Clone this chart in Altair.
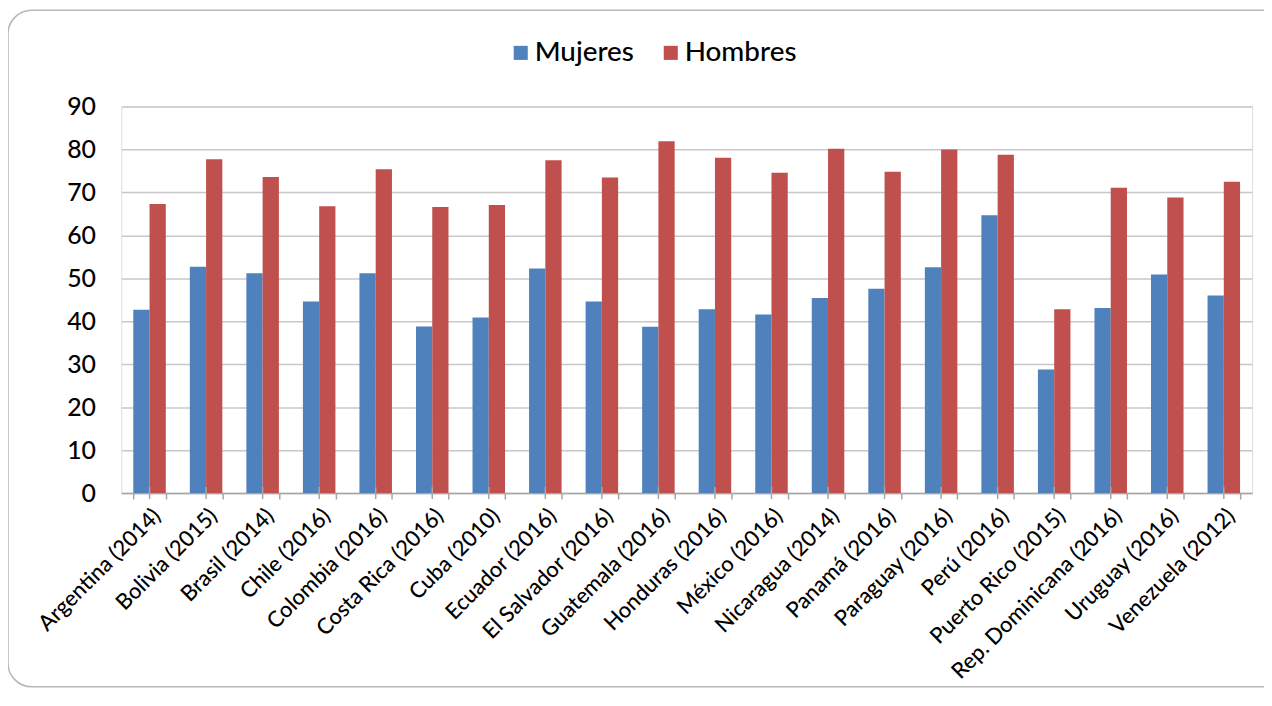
import altair as alt
import pandas as pd

paises = ["Argentina (2014)", "Bolivia  (2015)", "Brasil (2014)", "Chile (2016)",
          "Colombia (2016)", "Costa Rica (2016)", "Cuba (2010)", "Ecuador (2016)",
          "El Salvador (2016)", "Guatemala (2016)", "Honduras (2016)", "México (2016)",
          "Nicaragua (2014)", "Panamá (2016)", "Paraguay (2016)", "Perú  (2016)",
          "Puerto Rico (2015)", "Rep. Dominicana (2016)", "Uruguay (2016)", "Venezuela (2012)"]
mujeres = [42.7, 52.7, 51.2, 44.6, 51.2, 38.8, 40.9, 52.3, 44.6, 38.7,
           42.8, 41.6, 45.4, 47.6, 52.6, 64.7, 28.8, 43.1, 50.9, 46.0]
hombres = [67.3, 77.7, 73.6, 66.8, 75.4, 66.6, 67.1, 77.5, 73.5, 81.9,
           78.1, 74.6, 80.2, 74.8, 80.0, 78.8, 42.8, 71.1, 68.8, 72.5]
grupos = ["Mujeres", "Hombres"]
colores = ["#4F81BD", "#C0504D"]
y_ticks = [0, 10, 20, 30, 40, 50, 60, 70, 80, 90]

rows = []
for p, m, h in zip(paises, mujeres, hombres):
    rows.append({"pais": p, "grupo": "Mujeres", "valor": m})
    rows.append({"pais": p, "grupo": "Hombres", "valor": h})
df = pd.DataFrame(rows)

FONT = "Lato"
WEIGHT = 500
W, H = 1138, 389

xscale = alt.Scale(domain=paises, paddingInner=0.425, paddingOuter=0.2125)

border = alt.Chart(alt.Data(values=[{"a": 1}])).mark_rect(
    cornerRadius=24, filled=False, stroke="#b8b8b8", strokeWidth=1.5
).encode(
    x=alt.value(-114), x2=alt.value(1190), y=alt.value(-97), y2=alt.value(584)
)

bars = alt.Chart(df).mark_bar().encode(
    x=alt.X("pais:N", scale=xscale, sort=paises, title=None,
            axis=alt.Axis(labelAngle=-45, labelFontSize=22, labelFont=FONT, labelFontWeight=WEIGHT,
                          labelColor="#000", labelLimit=0, tickBand="extent", tickSize=6,
                          tickColor="#a6a6a6", tickWidth=1.5, domainColor="#a6a6a6",
                          domainWidth=1.5, labelPadding=6, grid=False)),
    xOffset=alt.XOffset("grupo:N", sort=grupos, scale=alt.Scale(domain=grupos, paddingInner=0, paddingOuter=0)),
    y=alt.Y("valor:Q", scale=alt.Scale(domain=[0, 90], nice=False), title=None,
            axis=alt.Axis(values=y_ticks, ticks=False, domain=False, labelFontSize=25,
                          labelFont=FONT, labelFontWeight=WEIGHT, labelColor="#000", labelPadding=26,
                          gridColor="#c8c8c8", gridWidth=1.5)),
    color=alt.Color("grupo:N", scale=alt.Scale(domain=grupos, range=colores), title=None,
                    legend=alt.Legend(orient="none", legendX=388, legendY=-68, direction="horizontal",
                                      symbolType="square", symbolSize=200, symbolStrokeWidth=0,
                                      labelFontSize=28, labelFont=FONT, labelFontWeight=WEIGHT,
                                      labelColor="#000", columnPadding=23, labelOffset=0)),
)

center_ticks = alt.Chart(alt.Data(values=[{"pais": p} for p in paises])).mark_rule(
    color="#a6a6a6", strokeWidth=1.5
).encode(
    x=alt.X("pais:N", scale=xscale, sort=paises),
    y=alt.value(H - 6), y2=alt.value(H + 6)
)

chart = alt.layer(border, bars, center_ticks).properties(
    width=W, height=H,
    autosize=alt.AutoSizeParams(type="none"),
    padding={"left": 114, "top": 97, "right": 12, "bottom": 194},
).configure_view(strokeWidth=0, stroke="transparent").configure(background="white")

chart.save("out.html", embed_options={"renderer": "svg", "actions": False})
